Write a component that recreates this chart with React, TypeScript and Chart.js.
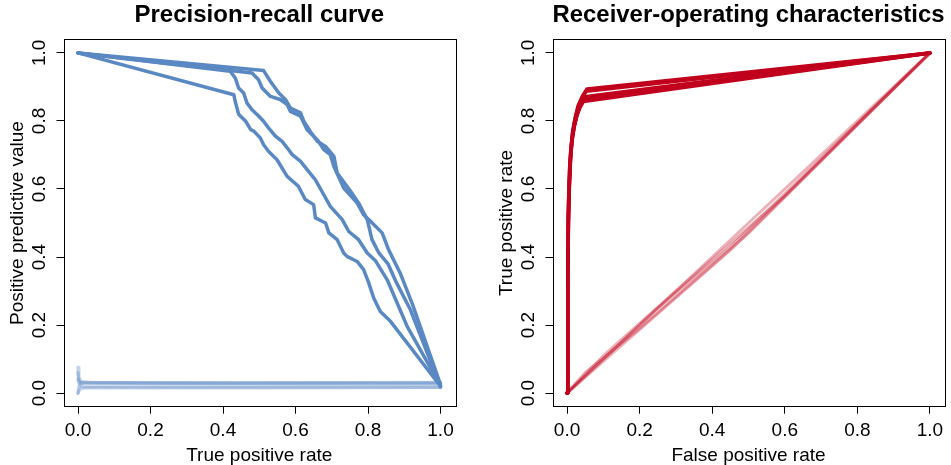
import React, { useEffect, useRef } from "react";
import { Chart, registerables } from "chart.js";
Chart.register(...registerables);

// ---------- text ----------
const prTitle = "Precision-recall curve";
const prXLabel = "True positive rate";
const prYLabel = "Positive predictive value";
const rocTitle = "Receiver-operating characteristics";
const rocXLabel = "False positive rate";
const rocYLabel = "True positive rate";

// ---------- ticks ----------
const tickValues = [0, 0.2, 0.4, 0.6, 0.8, 1.0];

// ---------- precision-recall: model curves ----------
const prA_x = [0, 0.43, 0.433, 0.443, 0.462, 0.476, 0.485, 0.503, 0.512, 0.526, 0.549, 0.577, 0.608, 0.627, 0.65, 0.655, 0.683, 0.692, 0.715, 0.733, 0.742, 0.77, 0.788, 0.802, 0.816, 0.834, 0.862, 1.0];
const prA_y = [1, 0.877, 0.86, 0.82, 0.8, 0.775, 0.77, 0.75, 0.73, 0.71, 0.686, 0.637, 0.608, 0.569, 0.554, 0.515, 0.5, 0.471, 0.451, 0.412, 0.402, 0.387, 0.363, 0.324, 0.279, 0.24, 0.211, 0.02];
const prB_x = [0, 0.42, 0.434, 0.443, 0.457, 0.466, 0.48, 0.494, 0.512, 0.526, 0.545, 0.563, 0.577, 0.591, 0.614, 0.632, 0.655, 0.678, 0.696, 0.729, 0.747, 0.774, 0.798, 0.82, 0.853, 0.908, 1.0];
const prB_y = [1, 0.946, 0.926, 0.897, 0.882, 0.853, 0.833, 0.819, 0.799, 0.779, 0.755, 0.74, 0.721, 0.701, 0.681, 0.657, 0.627, 0.583, 0.549, 0.51, 0.475, 0.451, 0.412, 0.39, 0.333, 0.196, 0.022];
const prC_x = [0, 0.48, 0.498, 0.508, 0.531, 0.558, 0.577, 0.586, 0.614, 0.632, 0.66, 0.678, 0.696, 0.706, 0.733, 0.77, 0.788, 0.807, 0.839, 0.857, 0.89, 0.923, 1.0];
const prC_y = [1, 0.941, 0.921, 0.897, 0.872, 0.863, 0.848, 0.828, 0.814, 0.774, 0.745, 0.716, 0.701, 0.666, 0.603, 0.559, 0.524, 0.505, 0.471, 0.421, 0.35, 0.26, 0.025];
const prD_x = [0, 0.512, 0.531, 0.554, 0.572, 0.586, 0.614, 0.623, 0.641, 0.66, 0.683, 0.706, 0.715, 0.752, 0.774, 0.798, 0.811, 0.83, 0.855, 0.876, 0.917, 1.0];
const prD_y = [1, 0.948, 0.916, 0.882, 0.863, 0.838, 0.824, 0.799, 0.769, 0.74, 0.725, 0.696, 0.647, 0.593, 0.559, 0.51, 0.451, 0.412, 0.38, 0.33, 0.245, 0.018];

// ---------- precision-recall: random baselines ----------
const prR1_x = [0, 0.002, 0.008, 0.03, 0.2, 0.6, 1.0];
const prR1_y = [0.075, 0.045, 0.034, 0.031, 0.03, 0.03, 0.03];
const prR2_x = [0, 0.003, 0.01, 0.1, 0.5, 1.0];
const prR2_y = [0.0, 0.02, 0.029, 0.029, 0.028, 0.028];
const prR3_x = [0, 0.004, 0.015, 0.3, 1.0];
const prR3_y = [0.06, 0.025, 0.019, 0.018, 0.018];
const prR4_x = [0, 0.005, 0.02, 0.5, 1.0];
const prR4_y = [0.0, 0.012, 0.016, 0.016, 0.017];
const prR5_x = [0, 0.003, 0.012, 0.4, 1.0];
const prR5_y = [0.04, 0.032, 0.031, 0.03, 0.031];

// ---------- ROC: model curves ----------
const roc1_x = [0, 0.002, 0.004, 0.006, 0.009, 0.013, 0.019, 0.027, 0.036, 0.045, 1];
const roc1_y = [0, 0.3, 0.5, 0.6, 0.68, 0.74, 0.78, 0.815, 0.84, 0.857, 1];
const roc2_x = [0, 0.002, 0.004, 0.007, 0.01, 0.014, 0.02, 0.028, 0.038, 0.047, 1];
const roc2_y = [0, 0.32, 0.52, 0.62, 0.69, 0.745, 0.785, 0.82, 0.848, 0.864, 1];
const roc3_x = [0, 0.002, 0.004, 0.007, 0.01, 0.015, 0.021, 0.029, 0.039, 0.048, 1];
const roc3_y = [0, 0.33, 0.53, 0.63, 0.7, 0.75, 0.79, 0.825, 0.853, 0.871, 1];
const roc4_x = [0, 0.002, 0.004, 0.007, 0.01, 0.015, 0.022, 0.03, 0.041, 0.053, 1];
const roc4_y = [0, 0.35, 0.55, 0.65, 0.71, 0.765, 0.805, 0.84, 0.868, 0.887, 1];
const roc5_x = [0, 0.002, 0.004, 0.007, 0.011, 0.016, 0.023, 0.031, 0.043, 0.055, 1];
const roc5_y = [0, 0.36, 0.56, 0.66, 0.72, 0.772, 0.812, 0.846, 0.874, 0.894, 1];

// ---------- ROC: random baselines ----------
const rocR1_x = [0, 0.2, 0.5, 1];
const rocR1_y = [0, 0.2, 0.5, 1];
const rocR2_x = [0, 0.1, 0.3, 0.6, 1];
const rocR2_y = [0, 0.11, 0.3, 0.58, 1];
const rocR3_x = [0, 0.15, 0.45, 0.8, 1];
const rocR3_y = [0, 0.14, 0.42, 0.79, 1];
const rocR4_x = [0, 0.05, 0.2, 0.5, 1];
const rocR4_y = [0, 0.06, 0.19, 0.47, 1];
const rocR5_x = [0, 0.25, 0.45, 0.7, 1];
const rocR5_y = [0, 0.25, 0.43, 0.69, 1];

const BLUE = "#5a88c3";
const BLUE_LIGHT = "rgba(90,136,195,0.35)";
const RED = "#c0001c";
const RED_LIGHT = "rgba(192,0,28,0.3)";
const FONT = "'Liberation Sans', Arial, Helvetica, sans-serif";

const zip = (xs: number[], ys: number[]) => xs.map((x, i) => ({ x, y: ys[i] }));

const line = (xs: number[], ys: number[], color: string, width: number) => ({
  data: zip(xs, ys),
  borderColor: color,
  borderWidth: width,
  pointRadius: 0,
  fill: false,
  tension: 0,
  borderCapStyle: "round",
  borderJoinStyle: "round",
});

const boxPlugin = {
  id: "rbox",
  afterDraw(chart: any) {
    const a = chart.chartArea;
    const ctx = chart.ctx;
    ctx.save();
    ctx.strokeStyle = "#000";
    ctx.lineWidth = 1;
    ctx.strokeRect(Math.round(a.left) + 0.5, Math.round(a.top) + 0.5, Math.round(a.right - a.left), Math.round(a.bottom - a.top));
    ctx.restore();
  },
};

function makeOptions(title: string, xLabel: string, yLabel: string, padRight: number) {
  const axisCommon = {
    type: "linear",
    min: -0.04,
    max: 1.04,
    afterBuildTicks: (s: any) => {
      s.ticks = tickValues.map((v) => ({ value: v }));
    },
    grid: { display: true, drawOnChartArea: false, drawTicks: true, tickLength: 7, color: "#000", lineWidth: 1 },
    border: { display: false },
  };
  return {
    responsive: false,
    animation: false,
    devicePixelRatio: 1,
    layout: { padding: { left: 0, right: padRight, top: 0, bottom: 0 } },
    plugins: {
      legend: { display: false },
      tooltip: { enabled: false },
      title: {
        display: true,
        text: title,
        fullSize: false,
        color: "#000",
        font: { family: FONT, size: 24, weight: "bold", lineHeight: 1.2 },
        padding: { top: 1, bottom: 9.5 },
      },
    },
    scales: {
      x: {
        ...axisCommon,
        position: "bottom",
        afterFit: (s: any) => {
          s.height = 58.3;
        },
        ticks: {
          autoSkip: false,
          maxRotation: 0,
          padding: 6,
          color: "#000",
          font: { family: FONT, size: 19 },
          callback: (v: any) => Number(v).toFixed(1),
        },
        title: {
          display: true,
          text: xLabel,
          color: "#000",
          font: { family: FONT, size: 19, lineHeight: 1.0 },
          padding: { top: 0, bottom: 0 },
        },
      },
      y: {
        ...axisCommon,
        position: "left",
        afterFit: (s: any) => {
          s.width = 63.5;
        },
        ticks: {
          autoSkip: false,
          minRotation: 90,
          maxRotation: 90,
          crossAlign: "center",
          padding: 4,
          color: "#000",
          font: { family: FONT, size: 19 },
          callback: (v: any) => Number(v).toFixed(1),
        },
        title: {
          display: true,
          text: yLabel,
          color: "#000",
          font: { family: FONT, size: 19, lineHeight: 1.0 },
          padding: { top: 8.5, bottom: 0 },
        },
      },
    },
  };
}

function Panel(props: { left: number; width: number; datasets: any[]; title: string; xLabel: string; yLabel: string; padRight: number }) {
  const ref = useRef<HTMLCanvasElement | null>(null);
  useEffect(() => {
    if (!ref.current) return;
    const chart = new Chart(ref.current, {
      type: "line",
      data: { datasets: props.datasets },
      options: makeOptions(props.title, props.xLabel, props.yLabel, props.padRight) as any,
      plugins: [boxPlugin],
    } as any);
    return () => chart.destroy();
  }, []);
  return (
    <canvas
      ref={ref}
      width={props.width}
      height={465}
      style={{ position: "absolute", left: props.left, top: 0, width: props.width, height: 465 }}
    />
  );
}

export default function App() {
  const prSets = [
    line(prA_x, prA_y, BLUE, 3.5),
    line(prB_x, prB_y, BLUE, 3.5),
    line(prC_x, prC_y, BLUE, 3.5),
    line(prD_x, prD_y, BLUE, 3.5),
    line(prR1_x, prR1_y, BLUE_LIGHT, 3.5),
    line(prR2_x, prR2_y, BLUE_LIGHT, 3.5),
    line(prR3_x, prR3_y, BLUE_LIGHT, 3.5),
    line(prR4_x, prR4_y, BLUE_LIGHT, 3.5),
    line(prR5_x, prR5_y, BLUE_LIGHT, 3.5),
  ];
  const rocSets = [
    line(roc1_x, roc1_y, RED, 3.5),
    line(roc2_x, roc2_y, RED, 3.5),
    line(roc3_x, roc3_y, RED, 3.5),
    line(roc4_x, roc4_y, RED, 3.5),
    line(roc5_x, roc5_y, RED, 3.5),
    line(rocR1_x, rocR1_y, RED_LIGHT, 3),
    line(rocR2_x, rocR2_y, RED_LIGHT, 3),
    line(rocR3_x, rocR3_y, RED_LIGHT, 3),
    line(rocR4_x, rocR4_y, RED_LIGHT, 3),
    line(rocR5_x, rocR5_y, RED_LIGHT, 3),
  ];
  return (
    <div style={{ position: "fixed", left: 0, top: 0, width: 951, height: 465, background: "#fff", overflow: "hidden" }}>
      <Panel left={0} width={489} datasets={prSets} title={prTitle} xLabel={prXLabel} yLabel={prYLabel} padRight={34} />
      <Panel left={489} width={462} datasets={rocSets} title={rocTitle} xLabel={rocXLabel} yLabel={rocYLabel} padRight={6.5} />
    </div>
  );
}
